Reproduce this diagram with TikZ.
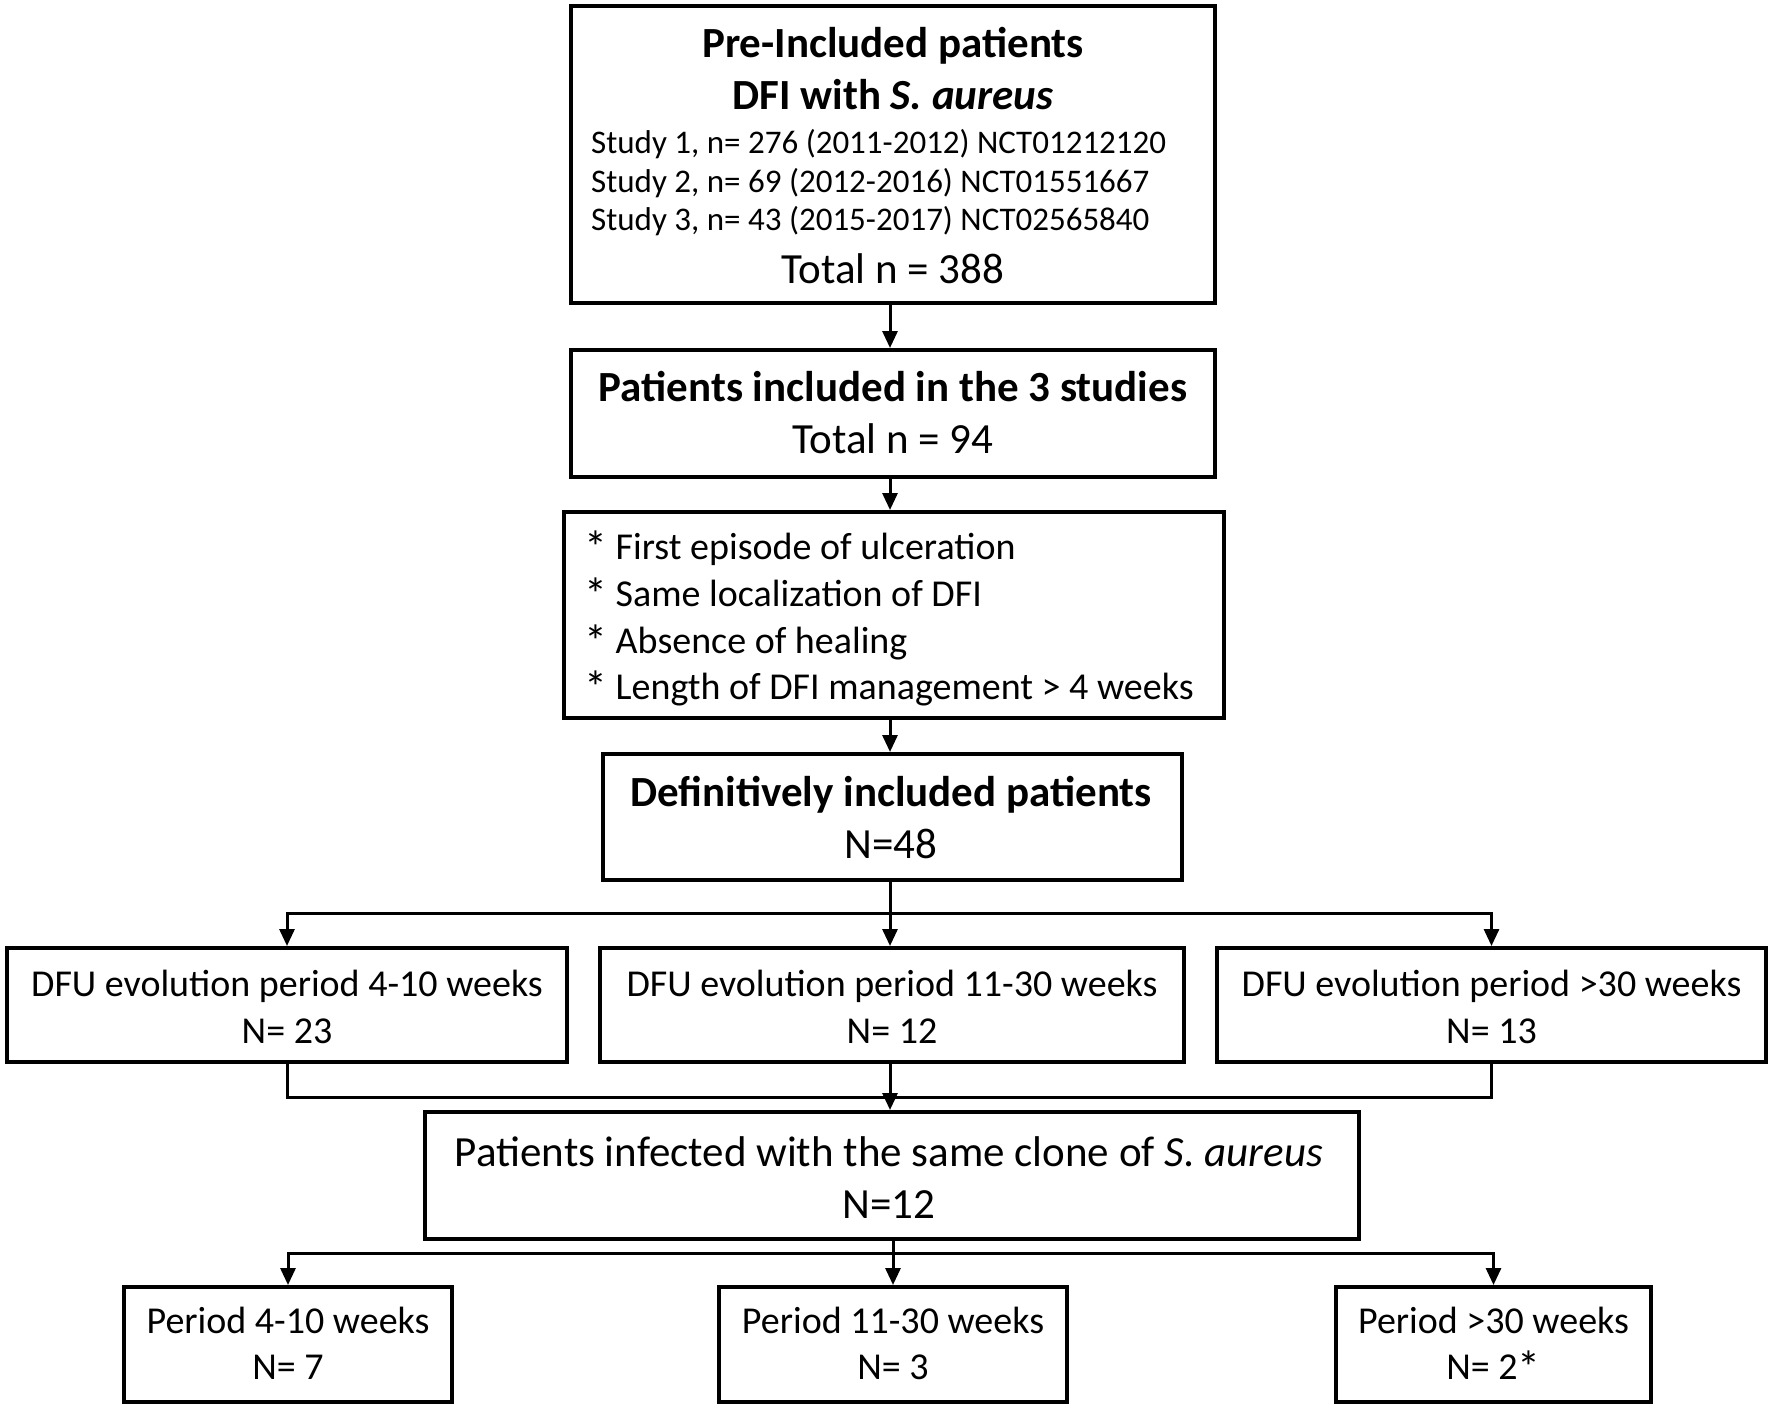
\documentclass[tikz,border=0pt]{standalone}
\usepackage{fontspec}
\setmainfont{Carlito}
\usetikzlibrary{arrows.meta}
\newcommand\szbig{\fontsize{43}{50}\selectfont}
\newcommand\szmid{\fontsize{38}{46}\selectfont}
\newcommand\szsmall{\fontsize{33}{38}\selectfont}
\newcommand\bigast{{\fontsize{46}{46}\selectfont\raisebox{-4pt}{*}}}
\begin{document}
\begin{tikzpicture}[x=1pt,y=-1pt,
  box/.style={draw, line width=4pt, inner sep=0pt},
  txt/.style={inner sep=0pt, anchor=base},
  ltxt/.style={inner sep=0pt, anchor=base west},
  ln/.style={line width=3pt},
  arr/.style={line width=3pt, -{Triangle[length=17pt,width=15pt]}}]
\useasboundingbox (0,0) rectangle (1772,1407);
% boxes
\node[box, minimum width=644pt, minimum height=297pt] (b1) at (893,154.5) {};
\node[box, minimum width=644pt, minimum height=127pt] (b2) at (893,413.5) {};
\node[box, minimum width=660pt, minimum height=206pt] (b3) at (894,615) {};
\node[box, minimum width=579pt, minimum height=126pt] (b4) at (892.5,817) {};
\node[box, minimum width=560pt, minimum height=114pt] (b5a) at (287,1005) {};
\node[box, minimum width=584pt, minimum height=114pt] (b5b) at (892,1005) {};
\node[box, minimum width=549pt, minimum height=114pt] (b5c) at (1491.5,1005) {};
\node[box, minimum width=934pt, minimum height=127pt] (b6) at (892,1175.5) {};
\node[box, minimum width=328pt, minimum height=115pt] (b7a) at (288,1344.5) {};
\node[box, minimum width=348pt, minimum height=115pt] (b7b) at (893,1344.5) {};
\node[box, minimum width=315pt, minimum height=115pt] (b7c) at (1493.5,1344.5) {};
% texts box 1
\node[txt] (t1a) at (893,58) {\szbig\bfseries Pre-Included patients};
\node[txt] (t1b) at (893,110) {\szbig\bfseries DFI with \textit{S. aureus}};
\node[ltxt] (t1c) at (591,154) {\szsmall Study 1, n= 276 (2011-2012) NCT01212120};
\node[ltxt] (t1d) at (591,193) {\szsmall Study 2, n= 69 (2012-2016) NCT01551667};
\node[ltxt] (t1e) at (591,231) {\szsmall Study 3, n= 43 (2015-2017) NCT02565840};
\node[txt] (t1f) at (893,283) {\szbig Total n = 388};
% box 2
\node[txt] (t2a) at (893,401) {\szbig\bfseries Patients included in the 3 studies};
\node[txt] (t2b) at (893,453) {\szbig Total n = 94};
% box 3
\node[ltxt] (t3a) at (584,559) {\szmid \bigast\ First episode of ulceration};
\node[ltxt] (t3b) at (584,606) {\szmid \bigast\ Same localization of DFI};
\node[ltxt] (t3c) at (584,653) {\szmid \bigast\ Absence of healing};
\node[ltxt] (t3d) at (584,699) {\szmid \bigast\ Length of DFI management > 4 weeks};
% box 4
\node[txt] (t4a) at (891,806) {\szbig\bfseries Definitively included patients};
\node[txt] (t4b) at (891,858) {\szbig N=48};
% row 5
\node[txt] (t5a1) at (287,996) {\szmid DFU evolution period 4-10 weeks};
\node[txt] (t5a2) at (287,1043) {\szmid N= 23};
\node[txt] (t5b1) at (892,996) {\szmid DFU evolution period 11-30 weeks};
\node[txt] (t5b2) at (892,1043) {\szmid N= 12};
\node[txt] (t5c1) at (1491.5,996) {\szmid DFU evolution period >30 weeks};
\node[txt] (t5c2) at (1491.5,1043) {\szmid N= 13};
% box 6
\node[txt] (t6a) at (889,1166) {\szbig Patients infected with the same clone of \textit{S. aureus}};
\node[txt] (t6b) at (889,1218) {\szbig N=12};
% row 7
\node[txt] (t7a1) at (288,1333) {\szmid Period 4-10 weeks};
\node[txt] (t7a2) at (288,1379) {\szmid N= 7};
\node[txt] (t7b1) at (893,1333) {\szmid Period 11-30 weeks};
\node[txt] (t7b2) at (893,1379) {\szmid N= 3};
\node[txt] (t7c1) at (1493.5,1333) {\szmid Period >30 weeks};
\node[txt] (t7c2) at (1493.5,1379) {\szmid N= 2\bigast};
% connectors
\draw[arr] (b1.south -| 890,0) -- (b2.north -| 890,0);
\draw[arr] (b2.south -| 890,0) -- (b3.north -| 890,0);
\draw[arr] (b3.south -| 890,0) -- (b4.north -| 890,0);
\coordinate (s1) at (890,913);
\draw[arr] (b4.south -| s1) -- (b5b.north -| s1);
\draw[arr] (s1) -| (b5a.north);
\draw[arr] (s1) -| (b5c.north);
\coordinate (m1) at (890,1097);
\draw[ln] (b5a.south) |- (m1);
\draw[ln] (b5c.south) |- (m1);
\draw[arr] (b5b.south -| m1) -- (b6.north -| m1);
\coordinate (s2) at (893,1253);
\draw[arr] (b6.south -| s2) -- (b7b.north -| s2);
\draw[arr] (s2) -| (b7a.north);
\draw[arr] (s2) -| (b7c.north);
\end{tikzpicture}
\end{document}
